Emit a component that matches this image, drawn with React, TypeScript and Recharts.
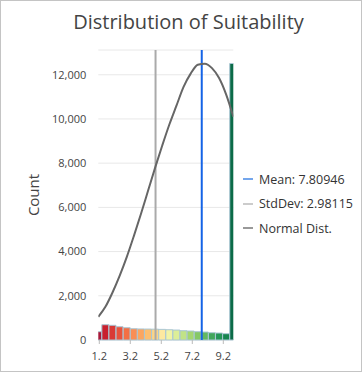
import React from 'react';
import {
  ComposedChart, Bar, Line, XAxis, YAxis, CartesianGrid, ReferenceLine, Cell,
} from 'recharts';

// histogram bins (centre of each bin) and counts
const BIN_CENTERS = [
  1.135, 1.593, 2.052, 2.51, 2.969, 3.427, 3.885, 4.344, 4.802, 5.261,
  5.719, 6.177, 6.636, 7.094, 7.553, 8.011, 8.469, 8.928, 9.386, 9.845,
];
const COUNTS = [
  375, 690, 665, 600, 555, 510, 500, 495, 490, 480,
  465, 450, 420, 405, 375, 360, 330, 315, 285, 12510,
];
// normal distribution curve, sampled at the bin centres
const NORMAL_CURVE = [
  1050, 1500, 2150, 2900, 3750, 4700, 5700, 6750, 7800, 8800,
  9750, 10600, 11450, 12050, 12450, 12500, 12300, 11850, 11100, 10100,
];
const BAR_COLORS = [
  '#a8193a', '#c8202f', '#d93a36', '#e8533d', '#f36f45', '#f98e55', '#fca560', '#fdbe70', '#fdd485', '#fde9a0',
  '#f1f4a6', '#dcee98', '#c1e387', '#a5d670', '#86c866', '#63b862', '#42a65c', '#259657', '#178550', '#0b6b48',
];
const X_TICKS = [1.2, 3.2, 5.2, 7.2, 9.2];
const Y_TICKS = [0, 2000, 4000, 6000, 8000, 10000, 12000];
const MEAN = 7.80946;
const STD_DEV = 2.98115;

const LEGEND = [
  { label: `Mean: ${MEAN}`, color: '#74a6ec' },
  { label: `StdDev: ${STD_DEV}`, color: '#cccccc' },
  { label: 'Normal Dist.', color: '#999999' },
];

const data = BIN_CENTERS.map((x, i) => ({ x, count: COUNTS[i], curve: NORMAL_CURVE[i] }));

const FONT = '"Open Sans", sans-serif';

export default function App() {
  return (
    <div style={{ position: 'absolute', left: 0, top: 0, width: 362, height: 372, background: '#fff', fontFamily: FONT }}>
      <div style={{ position: 'absolute', inset: 0, border: '1px solid #c4c4c4', boxSizing: 'border-box', pointerEvents: 'none' }} />
      <div style={{ position: 'absolute', left: 0, width: 377, top: 8, textAlign: 'center', fontSize: 20, color: '#444', lineHeight: '28px' }}>
        Distribution of Suitability
      </div>
      <div style={{
        position: 'absolute', left: 33, top: 195, fontSize: 15, color: '#444',
        transform: 'translate(-50%, -50%) rotate(-90deg)', whiteSpace: 'nowrap',
      }}>
        Count
      </div>
      <ComposedChart
        width={362}
        height={372}
        data={data}
        margin={{ top: 50, right: 128.7, left: 0, bottom: 2 }}
      >
        <CartesianGrid vertical={false} stroke="#e8e8e8" />
        <XAxis
          dataKey="x"
          type="number"
          domain={[1.135, 9.845]}
          ticks={X_TICKS}
          allowDataOverflow
          axisLine={false}
          tickLine={{ stroke: '#bbb' }}
          tickSize={4}
          tickMargin={8}
          height={30}
          tick={{ fontSize: 11, fill: '#444' }}
          tickFormatter={(v: number) => v.toFixed(1)}
        />
        <YAxis
          type="number"
          domain={[0, 13120]}
          ticks={Y_TICKS}
          width={98.3}
          axisLine={false}
          tickLine={false}
          tickSize={6}
          tickMargin={6}
          tick={{ fontSize: 11, fill: '#444' }}
          tickFormatter={(v: number) => v.toLocaleString('en-US')}
        />
        <Bar dataKey="count" barSize={7} stroke="#a9c6d4" strokeWidth={1} isAnimationActive={false}>
          {data.map((_, i) => (
            <Cell key={i} fill={BAR_COLORS[i]} />
          ))}
        </Bar>
        <ReferenceLine x={MEAN - STD_DEV} stroke="#aaaaaa" strokeWidth={2} />
        <ReferenceLine x={MEAN} stroke="#1463e6" strokeWidth={2} />
        <Line
          dataKey="curve"
          type="monotone"
          stroke="#666"
          strokeWidth={2}
          dot={false}
          activeDot={false}
          isAnimationActive={false}
        />
      </ComposedChart>
      <div style={{ position: 'absolute', left: 243, top: 167 }}>
        {LEGEND.map((item) => (
          <div key={item.label} style={{ display: 'flex', alignItems: 'center', height: 24.5 }}>
            <div style={{ width: 10, height: 2, background: item.color, marginRight: 6 }} />
            <span style={{ fontSize: 12.5, color: '#333', whiteSpace: 'nowrap' }}>{item.label}</span>
          </div>
        ))}
      </div>
    </div>
  );
}
